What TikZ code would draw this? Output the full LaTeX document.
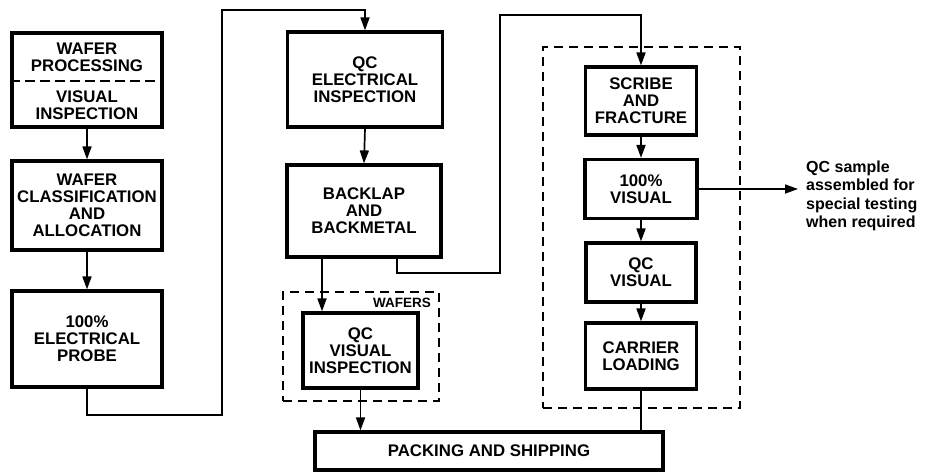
\documentclass[tikz,border=0pt]{standalone}
\usepackage{fontspec}
\setmainfont{Liberation Sans}
\usetikzlibrary{arrows.meta}
\newcommand\boxfnt{\fontsize{16.8}{17}\selectfont\bfseries}
\newcommand\notefnt{\fontsize{16}{18.3}\selectfont\bfseries}
\newcommand\smallfnt{\fontsize{13.5}{14}\selectfont\bfseries}
\begin{document}
\begin{tikzpicture}[x=1pt,y=-1pt,
  stepbox/.style={draw, line width=3.2pt, rectangle, inner sep=0pt, align=center, font=\boxfnt},
  txt/.style={inner sep=0pt, align=center, font=\boxfnt},
  grpbox/.style={draw, line width=2.6pt, dash pattern=on 9pt off 6pt, rectangle, inner sep=0pt},
  divider/.style={line width=1.5pt, dash pattern=on 10pt off 5pt},
  conn/.style={line width=1.7pt},
  arr/.style={line width=1.7pt, -{Triangle[length=13pt,width=9pt]}},
  note/.style={inner sep=0pt, align=left, font=\notefnt}]
\useasboundingbox (0,0) rectangle (930,474);

% left column
\node[stepbox, minimum width=150pt, minimum height=94pt] (box1) at (87,80) {};
\node[txt] (t1a) at (87,57) {WAFER\\PROCESSING};
\node[txt] (t1b) at (87,105) {VISUAL\\INSPECTION};
\draw[divider] ([yshift=-1pt]box1.west) -- ([yshift=-1pt]box1.east);
\node[stepbox, minimum width=150pt, minimum height=89pt] (box2) at (87,205.5) {WAFER\\CLASSIFICATION\\AND\\ALLOCATION};
\node[stepbox, minimum width=150pt, minimum height=96pt] (box3) at (87,339) {100\%\\ELECTRICAL\\PROBE};

% middle column
\node[stepbox, minimum width=155pt, minimum height=95pt] (qce) at (365,79.5) {QC\\ELECTRICAL\\INSPECTION};
\node[stepbox, minimum width=154pt, minimum height=92pt] (back) at (364,211) {BACKLAP\\AND\\BACKMETAL};
\node[grpbox, minimum width=156pt, minimum height=109pt] (wgrp) at (361,346.5) {};
\node[font=\smallfnt, inner sep=0pt, anchor=east] (wlab) at (431,303) {WAFERS};
\node[stepbox, minimum width=115pt, minimum height=75pt] (qcv) at (360.5,350.5) {QC\\VISUAL\\INSPECTION};
\node[stepbox, minimum width=348pt, minimum height=38pt] (pack) at (489,451) {PACKING AND SHIPPING};

% right column
\node[grpbox, minimum width=197pt, minimum height=361pt] (rgrp) at (641.5,227.5) {};
\node[stepbox, minimum width=111pt, minimum height=68pt] (scribe) at (641,101) {SCRIBE\\AND\\FRACTURE};
\node[stepbox, minimum width=112pt, minimum height=59pt] (vis) at (641,189) {100\%\\VISUAL};
\node[stepbox, minimum width=110pt, minimum height=59pt] (qcvis) at (641,272.5) {QC\\VISUAL};
\node[stepbox, minimum width=111pt, minimum height=66pt] (carrier) at (641,356) {CARRIER\\LOADING};
\node[note, anchor=west] (note) at (806,196) {QC sample\\assembled for\\special testing\\when required};

% connector corners
\coordinate (k1) at (222,415);
\coordinate (k2) at (222,10);
\coordinate (k3) at (500,273);
\coordinate (k4) at (500,15);
\coordinate (k5) at (798,189);

% connectors
\draw[arr] (box1.south) -- (box2.north);
\draw[arr] (box2.south) -- (box3.north);
\draw[arr] (box3.south) |- (k1) -- (k2) -| (qce.north);
\draw[arr] (qce.south) -- (back.north);
\draw[arr] ([xshift=-42pt]back.south) -- ([xshift=-42pt]back.south |- qcv.north);
\draw[arr] ([xshift=33pt]back.south) |- (k3) -- (k4) -| (scribe.north);
\draw[arr] (qcv.south) -- (qcv.south |- pack.north);
\draw[arr] (scribe.south) -- (vis.north);
\draw[arr] (vis.south) -- (qcvis.north);
\draw[arr] (qcvis.south) -- (carrier.north);
\draw[conn] (carrier.south) -- (carrier.south |- pack.north);
\draw[arr] (vis.east) -- (k5);
\end{tikzpicture}
\end{document}
